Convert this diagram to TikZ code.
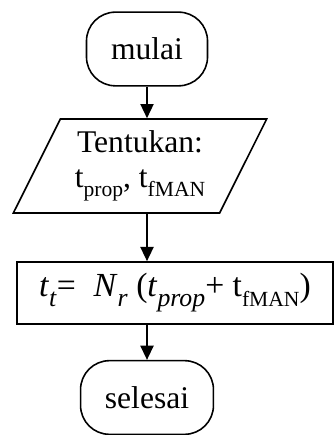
\documentclass[tikz,border=0pt]{standalone}
\usepackage{fontspec}
\setmainfont{Liberation Serif}
\usetikzlibrary{arrows.meta,shapes.geometric}
\definecolor{ink}{HTML}{000000}
\definecolor{paper}{HTML}{FFFFFF}
\newcommand\lsub[1]{\raisebox{-0.28em}{\fontsize{8.2}{9}\selectfont #1}}
\newcommand\msub[1]{\raisebox{-0.3em}{\fontsize{9.8}{10}\selectfont #1}}
\tikzset{
  boxbase/.style={draw=ink, fill=paper, line width=0.6pt, align=center, font=\fontsize{12}{14.5}\selectfont, text=ink, inner sep=0pt},
  terminal/.style={boxbase, rounded corners=11pt, minimum width=#1, minimum height=28pt},
  inputbox/.style={boxbase, trapezium, trapezium left angle=61.5, trapezium right angle=118.5, trapezium stretches=true, minimum width=97pt, minimum height=35.7pt},
  processbox/.style={boxbase, rectangle, minimum width=120pt, minimum height=23.6pt},
  flow/.style={-{Triangle[length=5.4pt,width=5pt]}, line width=0.6pt, draw=ink}
}
\begin{document}
\begin{tikzpicture}[x=0.38pt,y=-0.38pt]
\useasboundingbox (0,0) rectangle (335,435);

% start and input
\node[terminal=46pt] (mulai) at (147,49) {mulai};
\node[inputbox] (tentukan) at (140,166) {Tentukan:\\[-1pt]t\lsub{prop}, t\lsub{fMAN}};
\draw[flow] (mulai.south) -- (mulai.south |- tentukan.north);

% calculation
\node[processbox, font=\fontsize{12.8}{14.5}\selectfont] (rumus) at (175,293) {\textit{t}\msub{\textit{t}}= \;\textit{N}\msub{\textit{r}} (\textit{t}\msub{\textit{prop}}+ t\lsub{fMAN})};
\draw[flow] (mulai.south |- tentukan.south) -- (mulai.south |- rumus.north);

% end
\node[terminal=50.5pt] (selesai) at (147,397.5) {selesai};
\draw[flow] (mulai.south |- rumus.south) -- (selesai.north -| mulai.south);
\end{tikzpicture}
\end{document}
